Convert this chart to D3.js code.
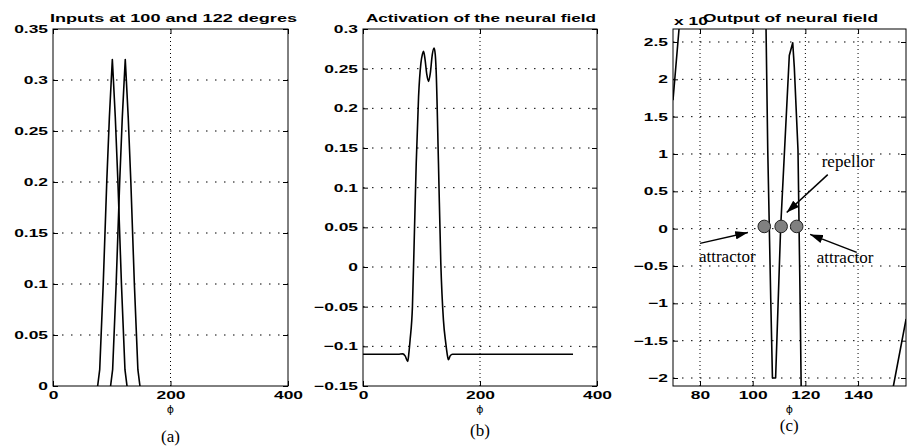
<!DOCTYPE html>
<html lang="en">
<head>
<meta charset="utf-8">
<title>Neural field</title>
<script src="https://d3js.org/d3.v7.min.js"></script>
<style>
  body { margin: 0; background: #fff; }
  svg { display: block; }
  .tick text, .title, .xunit { font-family: "Liberation Sans", Arial, sans-serif; font-weight: bold; font-size: 11px; fill: #000; }
  .tick line { stroke: #000; }
  .grid { stroke: #000; stroke-width: 1; fill: none; }
  .box { fill: none; stroke: #000; stroke-width: 1; }
  .curve { fill: none; stroke: #000; stroke-width: 1.6; stroke-linejoin: round; }
  .phi { font-family: "DejaVu Sans", sans-serif; font-size: 11px; }
  .panel { font-family: "Liberation Serif", "Times New Roman", serif; font-size: 17px; }
  .note { font-family: "Liberation Serif", "Times New Roman", serif; font-size: 17px; }
</style>
</head>
<body>
<script>
// (a) inputs at 100 and 122 degrees
var phiIn1 = [76, 79.5, 85.5, 91.5, 96, 99, 101, 103, 106, 110.5, 116.5, 122.5, 126];
var valIn1 = [0, 0.016, 0.10, 0.20, 0.264, 0.298, 0.32, 0.298, 0.264, 0.20, 0.10, 0.016, 0];
var phiIn2 = [98, 101.5, 107.5, 113.5, 118, 121, 123, 125, 128, 132.5, 138.5, 144.5, 148];
var valIn2 = [0, 0.016, 0.10, 0.20, 0.264, 0.298, 0.32, 0.298, 0.264, 0.20, 0.10, 0.016, 0];

// (b) activation of the neural field
var phiAct = [0, 60, 68, 72, 76.5, 78.5, 80.5, 84.5, 88, 91, 95, 99, 101.5, 103.5, 106, 109, 112, 115, 118.5, 121.5, 123.5, 125, 129, 133, 137.5, 141.5, 144, 146, 149, 153, 359];
var valAct = [-0.11, -0.11, -0.1095, -0.112, -0.119, -0.108, -0.092, -0.05, 0.047, 0.131, 0.215, 0.257, 0.268, 0.272, 0.262, 0.243, 0.234, 0.244, 0.268, 0.276, 0.268, 0.248, 0.131, 0.005, -0.067, -0.096, -0.11, -0.117, -0.112, -0.11, -0.11];

// (c) output of the neural field, x 10^-3
var phiOut = [69.75, 72.03, 74, 90, 104.5, 105.72, 106.86, 107.5, 108.7, 110.6, 113.9, 115.2, 115.8, 117.2, 118.0, 118.4, 119, 135, 150, 153.42, 158.24];
var valOut = [1.72, 2.67, 3.5, 6, 4.1, 1.05, -0.95, -2.0, -2.0, 0.0, 2.32, 2.49, 2.16, 1.05, -0.95, -2.11, -3.5, -5, -2.75, -2.107, -1.21];
var fixedPhi = [104.4, 110.8, 116.7];
var fixedVal = [0.03, 0.03, 0.03];

// tick labels
var ticksA_x = [0, 200, 400];
var ticksA_y = [0, 0.05, 0.1, 0.15, 0.2, 0.25, 0.3, 0.35];
var ticksB_x = [0, 200, 400];
var ticksB_y = [-0.15, -0.1, -0.05, 0, 0.05, 0.1, 0.15, 0.2, 0.25, 0.3];
var ticksC_x = [80, 100, 120, 140];
var ticksC_y = [-2, -1.5, -1, -0.5, 0, 0.5, 1, 1.5, 2, 2.5];

// annotations in panel (c), data units
var noteText = ["repellor", "attractor", "attractor"];
var notePhi = [126.2, 79.6, 124.3];
var noteVal = [0.83, -0.45, -0.46];
var arrowFrom = [[128.5, 0.724], [80.0, -0.197], [139.5, -0.317]];
var arrowTo = [[112.9, 0.217], [98.2, -0.05], [121.8, -0.077]];

var W = 907, H = 446;
var plotTop = 29, plotBottom = 386;
var stretch = 1.58;

var svg = d3.select("body").append("svg").attr("width", W).attr("height", H);

var defs = svg.append("defs");
defs.append("marker").attr("id", "head")
  .attr("viewBox", "0 0 12 8").attr("refX", 12).attr("refY", 4)
  .attr("markerWidth", 13).attr("markerHeight", 8.5)
  .attr("markerUnits", "userSpaceOnUse").attr("orient", "auto")
  .append("path").attr("d", "M0,0 L12,4 L0,8 Z").attr("fill", "#000");

function fmt(d) {
  var s = String(+d.toFixed(2));
  return s.replace("-", "\u2212");
}

function widen(sel, k) {
  sel.each(function() {
    var len = this.getComputedTextLength();
    d3.select(this).attr("textLength", len * k).attr("lengthAdjust", "spacingAndGlyphs");
  });
}

function panel(id, left, right, xDom, yDom, xt, yt) {
  var x = d3.scaleLinear().domain(xDom).range([left, right]);
  var y = d3.scaleLinear().domain(yDom).range([plotBottom, plotTop]);
  var g = svg.append("g").attr("id", id);

  defs.append("clipPath").attr("id", "clip-" + id)
    .append("rect").attr("x", left).attr("y", plotTop).attr("width", right - left).attr("height", plotBottom - plotTop);

  // dotted grid
  g.selectAll(".gy").data(yt.filter(function(d) { return y(d) > plotTop + 1 && y(d) < plotBottom - 1; }))
    .enter().append("line").attr("class", "grid")
    .attr("x1", left).attr("x2", right)
    .attr("y1", function(d) { return y(d); }).attr("y2", function(d) { return y(d); })
    .attr("stroke-dasharray", "1.5,7.5");
  g.selectAll(".gx").data(xt.filter(function(d) { return x(d) > left + 1 && x(d) < right - 1; }))
    .enter().append("line").attr("class", "grid")
    .attr("y1", plotTop).attr("y2", plotBottom)
    .attr("x1", function(d) { return x(d); }).attr("x2", function(d) { return x(d); })
    .attr("stroke-dasharray", "1,3");

  var ax = g.append("g").attr("transform", "translate(0," + plotBottom + ")")
    .call(d3.axisBottom(x).tickValues(xt).tickFormat(fmt).tickSizeInner(-5).tickSizeOuter(0).tickPadding(5.5));
  var ay = g.append("g").attr("transform", "translate(" + left + ",0)")
    .call(d3.axisLeft(y).tickValues(yt).tickFormat(fmt).tickSizeInner(-5).tickSizeOuter(0).tickPadding(5));
  g.append("g").attr("transform", "translate(0," + plotTop + ")")
    .call(d3.axisTop(x).tickValues(xt).tickFormat("").tickSizeInner(-5).tickSizeOuter(0));
  g.append("g").attr("transform", "translate(" + right + ",0)")
    .call(d3.axisRight(y).tickValues(yt).tickFormat("").tickSizeInner(-5).tickSizeOuter(0));
  g.selectAll(".domain").remove();
  widen(ax.selectAll("text"), stretch);
  widen(ay.selectAll("text"), stretch);

  g.append("rect").attr("class", "box")
    .attr("x", left).attr("y", plotTop).attr("width", right - left).attr("height", plotBottom - plotTop);

  g.append("text").attr("class", "phi")
    .attr("x", (left + right) / 2).attr("y", 413).attr("text-anchor", "middle").text("\u03d5");

  return { x: x, y: y, g: g, clip: "url(#clip-" + id + ")" };
}

function drawLine(p, xs, ys, curve) {
  var pts = xs.map(function(v, i) { return [v, ys[i]]; });
  p.g.append("path").attr("class", "curve").attr("clip-path", p.clip)
    .attr("d", d3.line().x(function(d) { return p.x(d[0]); }).y(function(d) { return p.y(d[1]); }).curve(curve)(pts));
}

function title(txt, x0, width, baseline) {
  var t = svg.append("text").attr("class", "title").attr("x", x0).attr("y", baseline).text(txt);
  t.attr("textLength", width).attr("lengthAdjust", "spacingAndGlyphs");
  return t;
}

// (a)
var pa = panel("a", 53, 288, [0, 400], [0, 0.35], ticksA_x, ticksA_y);
drawLine(pa, phiIn1, valIn1, d3.curveLinear);
drawLine(pa, phiIn2, valIn2, d3.curveLinear);
title("Inputs at 100 and 122 degres", 50, 247, 22);

// (b)
var pb = panel("b", 363, 597, [0, 400], [-0.15, 0.3], ticksB_x, ticksB_y);
drawLine(pb, phiAct, valAct, d3.curveMonotoneX);
title("Activation of the neural field", 366, 230, 22);

// (c)
var pc = panel("c", 673, 906, [69.75, 158.2], [-2.107, 2.674], ticksC_x, ticksC_y);
drawLine(pc, phiOut, valOut, d3.curveLinear);
var xl = svg.append("text").attr("class", "xunit").attr("x", 674).attr("y", 25).text("x 10");
widen(xl, stretch);
title("Output of neural field", 703, 175, 22);

pc.g.selectAll(".fixed").data(fixedPhi).enter().append("circle")
  .attr("cx", function(d) { return pc.x(d); })
  .attr("cy", function(d, i) { return pc.y(fixedVal[i]); })
  .attr("r", 6.3).attr("fill", "#808080").attr("stroke", "#222").attr("stroke-width", 1);

pc.g.selectAll(".arrow").data(arrowFrom).enter().append("line")
  .attr("x1", function(d) { return pc.x(d[0]); }).attr("y1", function(d) { return pc.y(d[1]); })
  .attr("x2", function(d, i) { return pc.x(arrowTo[i][0]); }).attr("y2", function(d, i) { return pc.y(arrowTo[i][1]); })
  .attr("stroke", "#000").attr("stroke-width", 1.5).attr("marker-end", "url(#head)");

pc.g.selectAll(".note").data(noteText).enter().append("text").attr("class", "note")
  .attr("x", function(d, i) { return pc.x(notePhi[i]); })
  .attr("y", function(d, i) { return pc.y(noteVal[i]); })
  .text(function(d) { return d; });

// panel letters
var letters = ["(a)", "(b)", "(c)"];
var letterX = [pa.x(200), pb.x(200), pc.x(113.9)];
var letterY = [442, 436, 431];
svg.selectAll(".panel").data(letters).enter().append("text").attr("class", "panel")
  .attr("x", function(d, i) { return letterX[i]; }).attr("y", function(d, i) { return letterY[i]; })
  .attr("text-anchor", "middle").text(function(d) { return d; });
</script>
</body>
</html>
